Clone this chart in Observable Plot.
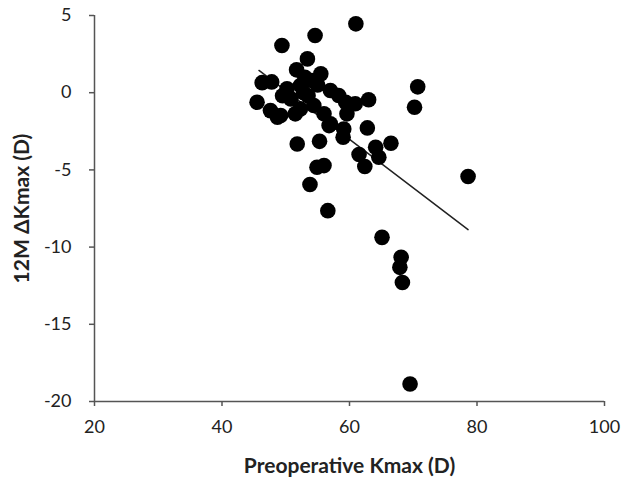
<!DOCTYPE html>
<html>
<head>
<meta charset="utf-8">
<script src="https://cdn.jsdelivr.net/npm/d3@7"></script>
<script src="https://cdn.jsdelivr.net/npm/@observablehq/plot@0.6"></script>
<style>
  html, body { margin: 0; padding: 0; background: #fff; }
  #chart svg { display: block; }
</style>
</head>
<body>
<div id="chart"></div>
<script>
// Preoperative Kmax (D)
const kmax = [
  61.0, 54.6, 49.4, 53.4, 51.7, 46.3, 47.8, 45.5, 47.6, 48.7,
  49.5, 50.2, 52.3, 54.1, 55.5, 57.0, 58.3, 59.4, 60.9, 63.0,
  50.8, 52.3, 54.4, 56.0, 57.0, 59.6, 59.1, 62.8, 49.2, 51.5,
  70.7, 70.2, 66.5, 51.8, 55.3, 59.0, 61.5, 62.4, 64.1, 64.6,
  54.9, 56.0, 53.8, 56.6, 78.6, 65.1, 68.1, 67.9, 68.3, 69.5,
  53.0, 52.8, 55.0, 53.5, 56.8
];
// 12M change in Kmax (D)
const dKmax = [
  4.46, 3.70, 3.06, 2.19, 1.48, 0.65, 0.70, -0.62, -1.16, -1.59,
  -0.20, 0.25, 0.46, 0.79, 1.22, 0.14, -0.18, -0.62, -0.72, -0.46,
  -0.40, -1.05, -0.83, -1.37, -2.02, -1.37, -2.35, -2.28, -1.48, -1.37,
  0.38, -0.94, -3.27, -3.32, -3.15, -2.89, -4.00, -4.78, -3.53, -4.18,
  -4.83, -4.72, -5.95, -7.64, -5.43, -9.37, -10.66, -11.31, -12.29, -18.87,
  1.00, 0.00, 0.50, -0.20, -2.13
];
// Linear trend line endpoints
const trendX = [45.8, 78.6];
const trendY = [1.44, -8.87];
const xTicks = [20, 40, 60, 80, 100];
const yTicks = [5, 0, -5, -10, -15, -20];

const points = kmax.map((x, i) => ({x, y: dKmax[i]}));
const trend = trendX.map((x, i) => ({x, y: trendY[i]}));

const axisColor = "#555";
const chart = Plot.plot({
  width: 621,
  height: 478,
  marginLeft: 94,
  marginRight: 17,
  marginTop: 15,
  marginBottom: 77,
  style: {fontFamily: "Lato, 'Open Sans', sans-serif", fontSize: "18px", color: "#222", background: "#fff"},
  x: {domain: [20, 100]},
  y: {domain: [-20, 5]},
  marks: [
    Plot.ruleX([20], {y1: -20, y2: 5, stroke: axisColor, strokeWidth: 1.5}),
    Plot.ruleY([-20], {x1: 20, x2: 100, stroke: axisColor, strokeWidth: 1.5}),
    Plot.axisX({ticks: xTicks, tickSize: 5, tickPadding: 14, stroke: axisColor, strokeWidth: 1.5,
      tickFormat: d => String(d), fontSize: 18,
      label: "Preoperative Kmax (D)", labelAnchor: "center", labelArrow: "none", labelOffset: 71}),
    Plot.axisY({ticks: yTicks, tickSize: 5, tickPadding: 18, stroke: axisColor, strokeWidth: 1.5,
      tickFormat: d => String(d), fontSize: 18,
      label: "12M ΔKmax (D)", labelAnchor: "center", labelArrow: "none", labelOffset: 80}),
    Plot.line(trend, {x: "x", y: "y", stroke: "#222", strokeWidth: 1.5}),
    Plot.dot(points, {x: "x", y: "y", r: 7.8, fill: "#000", stroke: "none"})
  ]
});
// bold, larger axis titles
chart.querySelectorAll("g[aria-label='x-axis label'] text, g[aria-label='y-axis label'] text").forEach(t => {
  t.setAttribute("font-weight", "bold");
  t.setAttribute("font-size", "21");
});
document.getElementById("chart").appendChild(chart);
</script>
</body>
</html>
